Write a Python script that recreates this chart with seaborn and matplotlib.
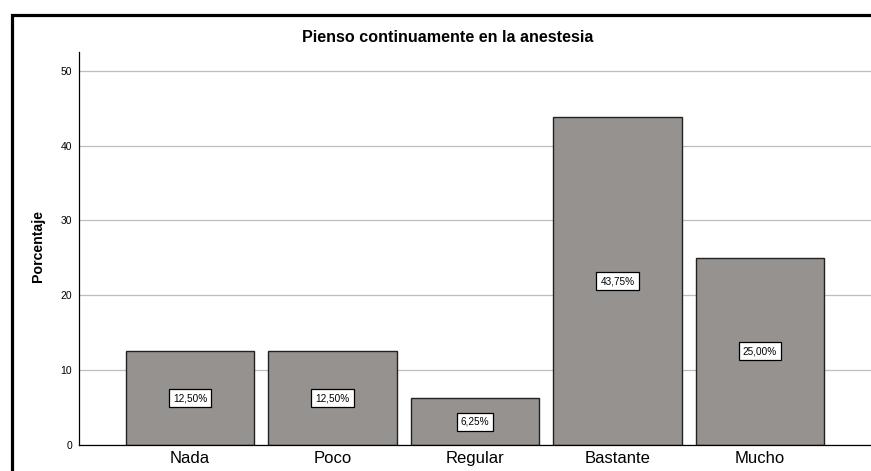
import matplotlib
matplotlib.use("Agg")
import matplotlib.pyplot as plt
from matplotlib.lines import Line2D
import seaborn as sns
import pandas as pd

categories = ["Nada", "Poco", "Regular", "Bastante", "Mucho"]
percentages = [12.50, 12.50, 6.25, 43.75, 25.00]
y_ticks = [0, 10, 20, 30, 40, 50]
title = "Pienso continuamente en la anestesia"
y_label = "Porcentaje"

sns.set_style("white")
plt.rcParams["font.family"] = ["Liberation Sans", "DejaVu Sans"]
plt.rcParams["text.color"] = "black"
plt.rcParams["xtick.color"] = "black"
plt.rcParams["ytick.color"] = "black"
plt.rcParams["axes.labelcolor"] = "black"

W, H = 871, 471
fig = plt.figure(figsize=(W / 100, H / 100), dpi=100)
ax = fig.add_axes([79 / W, 1 - 445 / H, 1 - 79 / W, (445 - 52) / H])

df = pd.DataFrame({"cat": categories, "pct": percentages})
sns.barplot(data=df, x="cat", y="pct", ax=ax, color="#96928f",
            edgecolor="#222222", linewidth=1.0, width=0.9, saturation=1)

labels = [f"{v:.2f}".replace(".", ",") + "%" for v in percentages]
ax.bar_label(ax.containers[0], labels=labels, label_type="center",
             fontsize=7.2, color="black",
             bbox=dict(boxstyle="square,pad=0.4", facecolor="white",
                       edgecolor="black", linewidth=0.9))

ax.set_xlim(-0.78, 4.78)
ax.set_ylim(0, 52.5)
ax.set_yticks(y_ticks)
ax.yaxis.grid(True, color="#bdbdbd", linewidth=0.9)
ax.xaxis.grid(False)
ax.set_axisbelow(True)
ax.tick_params(axis="y", length=0, labelsize=7.5, pad=5, labelcolor="black")
ax.tick_params(axis="x", length=0, labelsize=12, pad=4, labelcolor="black")
ax.set_xlabel("")
ax.set_ylabel("")
for s in ["top", "right"]:
    ax.spines[s].set_visible(False)
for s in ["left", "bottom"]:
    ax.spines[s].set_color("black")
    ax.spines[s].set_linewidth(0.9)

fig.text(448 / W, 1 - 38 / H, title, ha="center", va="center",
         fontsize=11.6, fontweight="bold", color="black")
fig.text(38 / W, 1 - 246 / H, y_label, ha="center", va="center",
         rotation=90, fontsize=10.2, fontweight="bold", color="black")

frame = Line2D([11.5 / W, 11.5 / W, 1.0], [0, 1 - 14.5 / H, 1 - 14.5 / H],
               transform=fig.transFigure, color="black", linewidth=2.3,
               solid_joinstyle="miter")
fig.add_artist(frame)

fig.savefig("out.png", dpi=100)
